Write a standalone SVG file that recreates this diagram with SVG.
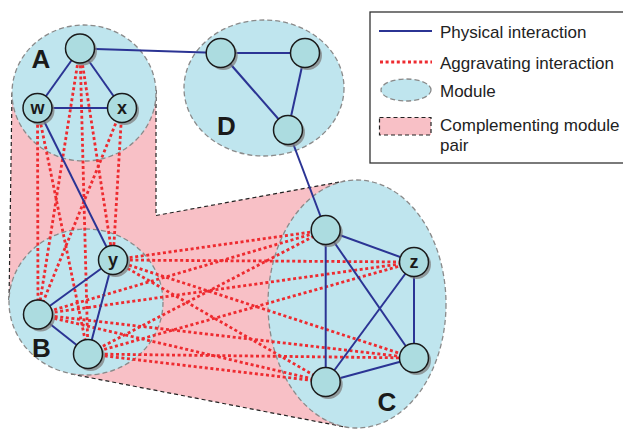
<svg xmlns="http://www.w3.org/2000/svg" width="623" height="429" viewBox="0 0 623 429">
  <style>
    .pair { fill: #f8c0c6; stroke: none; }
    .pairEdge { fill: none; stroke: #222; stroke-width: 1.2; stroke-dasharray: 4 3; }
    .module { fill: #bfe5ee; stroke: #8a8a8a; stroke-width: 1.3; stroke-dasharray: 5 3; }
    .phys { stroke: #2b3494; stroke-width: 2; fill: none; }
    .aggr { stroke: #ee2b30; stroke-width: 2.8; stroke-dasharray: 3 2.6; fill: none; }
    .node { fill: #acdce0; stroke: #1a1a1a; stroke-width: 1.5; }
    .shadow { fill: #7f7f7f; opacity: 0.75; }
    .nlabel { font-family: "Liberation Sans", Arial, sans-serif; font-weight: bold; font-size: 18px; fill: #1a1a1a; text-anchor: middle; }
    .mlabel { font-family: "Liberation Sans", Arial, sans-serif; font-weight: bold; font-size: 26px; fill: #1a1a1a; text-anchor: middle; }
    .legend { font-family: "Liberation Sans", Arial, sans-serif; font-size: 17px; fill: #222; }
  </style>
  <defs>
    <g id="nodeShape">
      <circle class="shadow" cx="2.5" cy="2.5" r="14.5"/>
      <circle class="node" cx="0" cy="0" r="14.5"/>
    </g>
  </defs>

  <!-- complementing module pairs: A-B and B-C -->
  <g id="pairs">
    <polygon class="pair" points="12,93 156,93 156,300 9,302"/>
    <polygon class="pair" points="71,231 345,181 345,427 71,374"/>
    <line class="pairEdge" x1="12" y1="93" x2="9" y2="302"/>
    <line class="pairEdge" x1="156" y1="90" x2="156" y2="215.5"/>
    <line class="pairEdge" x1="156" y1="215.5" x2="345" y2="181"/>
    <line class="pairEdge" x1="71" y1="374" x2="345" y2="427"/>
  </g>

  <!-- modules -->
  <g id="module-A"><ellipse class="module" cx="84" cy="93" rx="72" ry="68"/></g>
  <g id="module-D"><ellipse class="module" cx="264" cy="88" rx="80" ry="68"/></g>
  <g id="module-B"><ellipse class="module" cx="86" cy="302" rx="77" ry="73"/></g>
  <g id="module-C"><ellipse class="module" cx="357" cy="304" rx="89" ry="124"/></g>

  <!-- connectors -->
  <g id="connectors">
    <!-- aggravating interactions A-B -->
    <line class="aggr" x1="37.5" y1="108" x2="38" y2="314.5"/>
    <line class="aggr" x1="37.5" y1="108" x2="88" y2="354"/>
    <line class="aggr" x1="80" y1="48.5" x2="38" y2="314.5"/>
    <line class="aggr" x1="80" y1="48.5" x2="88" y2="354"/>
    <line class="aggr" x1="80" y1="48.5" x2="113" y2="260"/>
    <line class="aggr" x1="122" y1="108" x2="113" y2="260"/>
    <line class="aggr" x1="122" y1="108" x2="38" y2="314.5"/>
    <!-- aggravating interactions B-C -->
    <line class="aggr" x1="113" y1="260" x2="325.7" y2="230"/>
    <line class="aggr" x1="113" y1="260" x2="414" y2="262"/>
    <line class="aggr" x1="113" y1="260" x2="414" y2="358"/>
    <line class="aggr" x1="113" y1="260" x2="325.7" y2="382"/>
    <line class="aggr" x1="38" y1="314.5" x2="325.7" y2="230"/>
    <line class="aggr" x1="38" y1="314.5" x2="414" y2="262"/>
    <line class="aggr" x1="38" y1="314.5" x2="414" y2="358"/>
    <line class="aggr" x1="38" y1="314.5" x2="325.7" y2="382"/>
    <line class="aggr" x1="88" y1="354" x2="325.7" y2="230"/>
    <line class="aggr" x1="88" y1="354" x2="414" y2="262"/>
    <line class="aggr" x1="88" y1="354" x2="414" y2="358"/>
    <line class="aggr" x1="88" y1="354" x2="325.7" y2="382"/>

    <!-- physical interactions -->
    <line class="phys" x1="80" y1="48.5" x2="37.5" y2="108"/>
    <line class="phys" x1="80" y1="48.5" x2="122" y2="108"/>
    <line class="phys" x1="37.5" y1="108" x2="122" y2="108"/>
    <line class="phys" x1="80" y1="48.5" x2="220.7" y2="53"/>
    <line class="phys" x1="37.5" y1="108" x2="113" y2="260"/>
    <line class="phys" x1="220.7" y1="53" x2="305" y2="53"/>
    <line class="phys" x1="220.7" y1="53" x2="288" y2="130"/>
    <line class="phys" x1="305" y1="53" x2="288" y2="130"/>
    <line class="phys" x1="288" y1="130" x2="325.7" y2="230"/>
    <line class="phys" x1="113" y1="260" x2="38" y2="314.5"/>
    <line class="phys" x1="113" y1="260" x2="88" y2="354"/>
    <line class="phys" x1="38" y1="314.5" x2="88" y2="354"/>
    <line class="phys" x1="325.7" y1="230" x2="414" y2="262"/>
    <line class="phys" x1="325.7" y1="230" x2="325.7" y2="382"/>
    <line class="phys" x1="325.7" y1="230" x2="414" y2="358"/>
    <line class="phys" x1="414" y1="262" x2="414" y2="358"/>
    <line class="phys" x1="414" y1="262" x2="325.7" y2="382"/>
    <line class="phys" x1="325.7" y1="382" x2="414" y2="358"/>
  </g>

  <!-- nodes -->
  <g id="node-a0"><use href="#nodeShape" x="80" y="48.5"/></g>
  <g id="node-w"><use href="#nodeShape" x="37.5" y="108"/><text class="nlabel" x="37.5" y="114">w</text></g>
  <g id="node-x"><use href="#nodeShape" x="122" y="108"/><text class="nlabel" x="122" y="114">x</text></g>
  <g id="node-d1"><use href="#nodeShape" x="220.7" y="53"/></g>
  <g id="node-d2"><use href="#nodeShape" x="305" y="53"/></g>
  <g id="node-d3"><use href="#nodeShape" x="288" y="130"/></g>
  <g id="node-y"><use href="#nodeShape" x="113" y="260"/><text class="nlabel" x="113" y="266">y</text></g>
  <g id="node-b1"><use href="#nodeShape" x="38" y="314.5"/></g>
  <g id="node-b2"><use href="#nodeShape" x="88" y="354"/></g>
  <g id="node-c1"><use href="#nodeShape" x="325.7" y="230"/></g>
  <g id="node-z"><use href="#nodeShape" x="414" y="262"/><text class="nlabel" x="414" y="268">z</text></g>
  <g id="node-c3"><use href="#nodeShape" x="414" y="358"/></g>
  <g id="node-c4"><use href="#nodeShape" x="325.7" y="382"/></g>

  <!-- module labels -->
  <g id="labels">
    <text class="mlabel" x="41" y="68">A</text>
    <text class="mlabel" x="226.5" y="135">D</text>
    <text class="mlabel" x="41.5" y="357">B</text>
    <text class="mlabel" x="387" y="411">C</text>
  </g>

  <!-- legend -->
  <g id="legend">
    <rect x="370" y="12" width="262" height="151" fill="#fff" stroke="#333" stroke-width="1.3"/>
    <line class="phys" x1="379" y1="31" x2="432" y2="31"/>
    <text class="legend" x="440" y="37.5">Physical interaction</text>
    <line class="aggr" x1="380" y1="62" x2="432" y2="62"/>
    <text class="legend" x="440" y="68.5">Aggravating interaction</text>
    <ellipse class="module" cx="406" cy="90" rx="25" ry="11"/>
    <text class="legend" x="440" y="97">Module</text>
    <rect x="379.5" y="117.5" width="51.5" height="17.5" class="pair"/>
    <rect x="379.5" y="117.5" width="51.5" height="17.5" class="pairEdge"/>
    <text class="legend" x="440" y="131">Complementing module</text>
    <text class="legend" x="440" y="150.5">pair</text>
  </g>
</svg>
